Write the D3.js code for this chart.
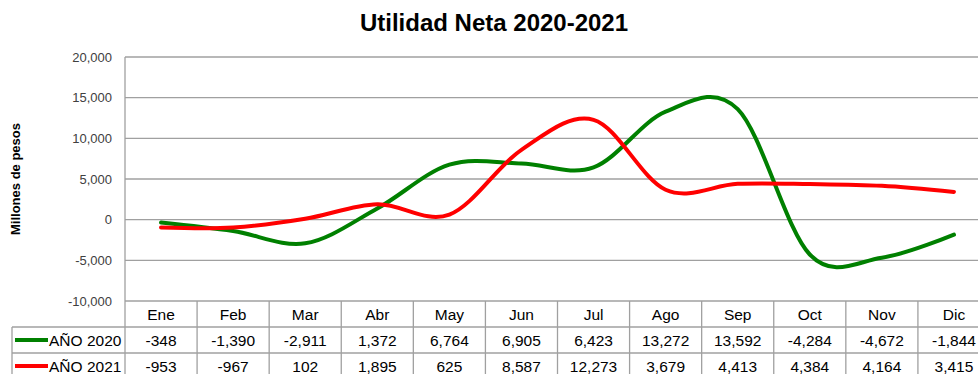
<!DOCTYPE html>
<html>
<head>
<meta charset="utf-8">
<script src="https://cdn.jsdelivr.net/npm/d3@7"></script>
<style>
  html, body { margin: 0; padding: 0; background: #fff; }
  svg { display: block; font-family: "Liberation Sans", Arial, sans-serif; }
</style>
</head>
<body>
<svg id="chart" width="978" height="374"></svg>
<script>
// Monthly net income, millions of pesos
const months = ["Ene", "Feb", "Mar", "Abr", "May", "Jun", "Jul", "Ago", "Sep", "Oct", "Nov", "Dic"];
const values2020 = [-348, -1390, -2911, 1372, 6764, 6905, 6423, 13272, 13592, -4284, -4672, -1844];
const values2021 = [-953, -967, 102, 1895, 625, 8587, 12273, 3679, 4413, 4384, 4164, 3415];
const seriesNames = ["AÑO 2020", "AÑO 2021"];
const seriesColors = ["#008000", "#ff0000"];
const yTicks = [-10000, -5000, 0, 5000, 10000, 15000, 20000];
const titleText = "Utilidad Neta 2020-2021";
const yLabel = "Millones de pesos";

const svg = d3.select("#chart");
const plot = { left: 125, right: 990, top: 57, bottom: 301 };
const rowH = 26;
const gridColor = "#a0a0a0";
// thousands separator with a plain hyphen for negatives
const fmtBase = d3.format(",");
const fmt = v => fmtBase(v).replace("\u2212", "-");

const x = d3.scaleBand().domain(months).range([plot.left, plot.right]).padding(0);
const y = d3.scaleLinear().domain([-10000, 20000]).range([plot.bottom, plot.top]);
const cx = m => x(m) + x.bandwidth() / 2;

// Title
svg.append("text")
  .attr("x", 494).attr("y", 31)
  .attr("text-anchor", "middle")
  .attr("font-size", 24).attr("font-weight", "bold").attr("fill", "#000")
  .text(titleText);

// Y-axis title
svg.append("text")
  .attr("transform", `translate(20,${(plot.top + plot.bottom) / 2}) rotate(-90)`)
  .attr("text-anchor", "middle")
  .attr("font-size", 13).attr("font-weight", "bold").attr("fill", "#000")
  .text(yLabel);

// Horizontal gridlines
svg.append("g").selectAll("line").data(yTicks).join("line")
  .attr("x1", plot.left).attr("x2", plot.right)
  .attr("y1", d => y(d)).attr("y2", d => y(d))
  .attr("stroke", gridColor).attr("stroke-width", 1.3);

// Y axis labels
const yAxis = d3.axisLeft(y).tickValues(yTicks).tickFormat(fmt).tickSize(0).tickPadding(13);
const gy = svg.append("g").attr("transform", `translate(${plot.left},0)`).call(yAxis);
gy.select(".domain").remove();
gy.selectAll("text").attr("font-size", 13).attr("fill", "#404040")
  .attr("font-family", "'Liberation Sans', Arial, sans-serif");

// Data table grid
const tableTop = plot.bottom;
const tableBottom = tableTop + rowH * 3;
const tbl = svg.append("g").attr("stroke", gridColor).attr("stroke-width", 1.3);
// left axis line running down through the table
tbl.append("line").attr("x1", plot.left).attr("x2", plot.left)
  .attr("y1", plot.top).attr("y2", tableBottom);
// column dividers
tbl.selectAll("line.col").data(months.slice(1)).join("line").attr("class", "col")
  .attr("x1", d => x(d)).attr("x2", d => x(d))
  .attr("y1", tableTop).attr("y2", tableBottom);
// row dividers (series rows include the legend cell)
[1, 2, 3].forEach(i => {
  tbl.append("line")
    .attr("x1", 12).attr("x2", plot.right)
    .attr("y1", tableTop + rowH * i).attr("y2", tableTop + rowH * i);
});
tbl.append("line").attr("x1", 12).attr("x2", 12)
  .attr("y1", tableTop + rowH).attr("y2", tableBottom);

// Header row (months)
svg.append("g").selectAll("text").data(months).join("text")
  .attr("x", d => cx(d)).attr("y", tableTop + rowH / 2 + 5.5)
  .attr("text-anchor", "middle").attr("font-size", 15.5).attr("fill", "#000")
  .text(d => d);

// Series rows
[values2020, values2021].forEach((vals, i) => {
  const rowY = tableTop + rowH * (i + 1) + rowH / 2;
  const g = svg.append("g");
  g.append("line")
    .attr("x1", 15).attr("x2", 48).attr("y1", rowY).attr("y2", rowY)
    .attr("stroke", seriesColors[i]).attr("stroke-width", 4);
  g.append("text")
    .attr("x", 49).attr("y", rowY + 5.5)
    .attr("font-size", 15.5).attr("fill", "#000")
    .text(seriesNames[i]);
  g.selectAll("text.val").data(vals).join("text").attr("class", "val")
    .attr("x", (d, j) => cx(months[j])).attr("y", rowY + 5.5)
    .attr("text-anchor", "middle").attr("font-size", 15.5).attr("fill", "#000")
    .text(d => fmt(d));
});

// Smoothed series lines
const line = d3.line()
  .x((d, j) => cx(months[j]))
  .y(d => y(d))
  .curve(d3.curveCatmullRom.alpha(0));

[values2020, values2021].forEach((vals, i) => {
  svg.append("path")
    .attr("d", line(vals))
    .attr("fill", "none")
    .attr("stroke", seriesColors[i])
    .attr("stroke-width", 4)
    .attr("stroke-linecap", "round")
    .attr("stroke-linejoin", "round");
});
</script>
</body>
</html>
